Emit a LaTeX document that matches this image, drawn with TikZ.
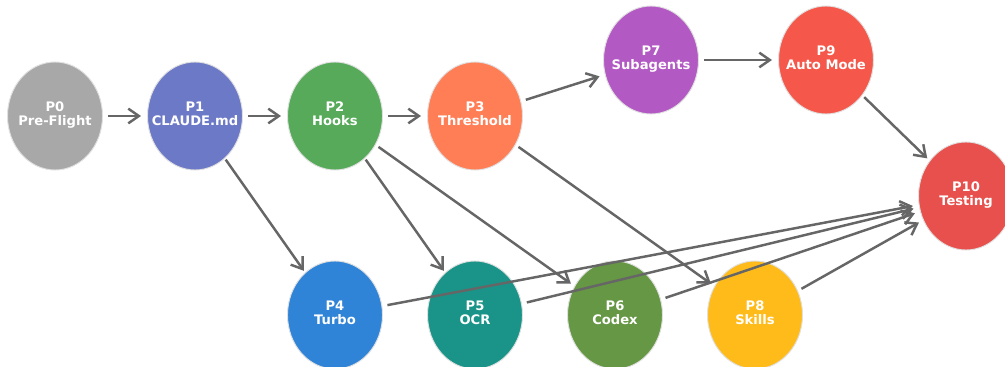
\documentclass[tikz,border=0pt]{standalone}
\usepackage{fontspec}
\setmainfont{DejaVu Sans}
\usetikzlibrary{shapes.geometric,arrows.meta}
% phase fill colours
\definecolor{cPzero}{RGB}{168,168,168}
\definecolor{cPone}{RGB}{108,121,198}
\definecolor{cPtwo}{RGB}{86,170,89}
\definecolor{cPthree}{RGB}{255,126,86}
\definecolor{cPfour}{RGB}{48,132,215}
\definecolor{cPfive}{RGB}{26,148,136}
\definecolor{cPsix}{RGB}{102,151,68}
\definecolor{cPseven}{RGB}{179,89,195}
\definecolor{cPeight}{RGB}{255,187,26}
\definecolor{cPnine}{RGB}{245,88,75}
\definecolor{cPten}{RGB}{231,80,76}
\definecolor{arrowgray}{RGB}{102,102,102}
% two-line label that does not widen its ellipse
\newcommand{\phaselabel}[2]{\raisebox{-0.06cm}{\makebox[0pt][c]{\begin{tabular}{@{}c@{}}#1\\#2\end{tabular}}}}
\begin{document}
\begin{tikzpicture}[x=0.03cm,y=-0.03cm,
  phase/.style={ellipse, minimum width=2.85cm, minimum height=3.24cm, inner sep=0pt,
    draw=white!88!black, line width=0.8pt, text=white,
    font=\bfseries\fontsize{11.2}{12.5}\selectfont},
  link/.style={draw=arrowgray, line width=2.1pt,
    -{Straight Barb[length=9pt,width=12.5pt]},
    shorten <=1.6cm, shorten >=1.62cm}]
\renewcommand{\arraystretch}{0.95}
\clip (0,0) rectangle (1005,367);
\fill[white] (0,0) rectangle (1005,367);
% upper row
\node[phase, fill=cPzero]  (p0)  at (55,116)  {\phaselabel{P0}{Pre-Flight}};
\node[phase, fill=cPone]   (p1)  at (195,116) {\phaselabel{P1}{CLAUDE.md}};
\node[phase, fill=cPtwo]   (p2)  at (335,116) {\phaselabel{P2}{Hooks}};
\node[phase, fill=cPthree] (p3)  at (475,116) {\phaselabel{P3}{Threshold}};
\node[phase, fill=cPseven] (p7)  at (651,60)  {\phaselabel{P7}{Subagents}};
\node[phase, fill=cPnine]  (p9)  at (826,60)  {\phaselabel{P9}{Auto Mode}};
\node[phase, fill=cPten]   (p10) at (966,196) {\phaselabel{P10}{Testing}};
% lower row
\node[phase, fill=cPfour]  (p4)  at (335,315) {\phaselabel{P4}{Turbo}};
\node[phase, fill=cPfive]  (p5)  at (475,315) {\phaselabel{P5}{OCR}};
\node[phase, fill=cPsix]   (p6)  at (615,315) {\phaselabel{P6}{Codex}};
\node[phase, fill=cPeight] (p8)  at (755,315) {\phaselabel{P8}{Skills}};
% dependencies
\draw[link] (p0.center) -- (p1.center);
\draw[link] (p1.center) -- (p2.center);
\draw[link] (p2.center) -- (p3.center);
\draw[link] (p3.center) -- (p7.center);
\draw[link] (p7.center) -- (p9.center);
\draw[link] (p9.center) -- (p10.center);
\draw[link] (p1.center) -- (p4.center);
\draw[link] (p2.center) -- (p5.center);
\draw[link] (p2.center) -- (p6.center);
\draw[link] (p3.center) -- (p8.center);
\draw[link] (p4.center) -- (p10.center);
\draw[link] (p5.center) -- (p10.center);
\draw[link] (p6.center) -- (p10.center);
\draw[link] (p8.center) -- (p10.center);
\end{tikzpicture}
\end{document}
